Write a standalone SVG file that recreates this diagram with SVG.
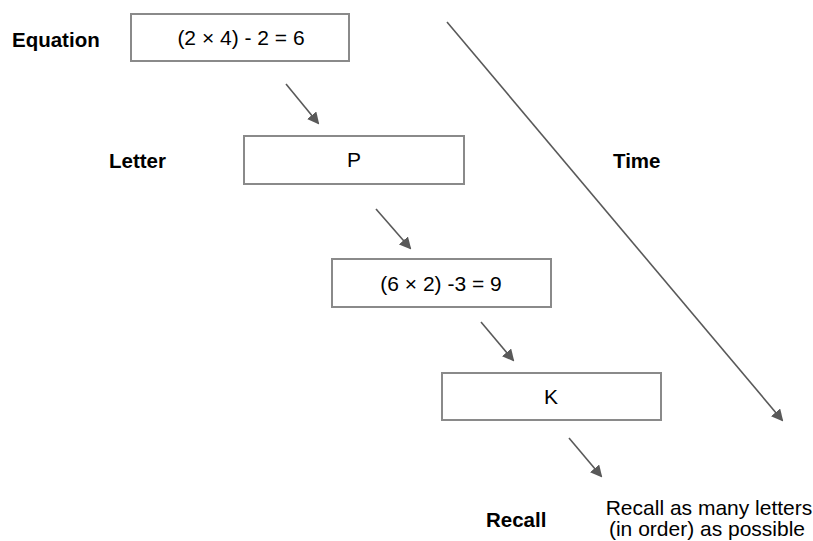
<svg xmlns="http://www.w3.org/2000/svg" width="813" height="541" viewBox="0 0 813 541">
<style>
.box{fill:#fff;stroke:#8a8a8a;stroke-width:2}
.t{font-family:"Liberation Sans",Arial,sans-serif;font-size:21px;fill:#000;text-anchor:middle}
.lbl{font-family:"Liberation Sans",Arial,sans-serif;font-size:20.5px;font-weight:bold;fill:#000}
.arr{stroke:#595959;stroke-width:1.6;fill:none;marker-end:url(#ah)}
</style>
<defs>
<marker id="ah" markerWidth="12" markerHeight="12" refX="10" refY="6" orient="auto" markerUnits="userSpaceOnUse">
<path d="M0,0 L12,6 L0,12 Z" fill="#595959"/>
</marker>
</defs>
<rect width="813" height="541" fill="#fff"/>
<g id="labels">
<text class="lbl" x="12" y="47">Equation</text>
<text class="lbl" x="109" y="168">Letter</text>
<text class="lbl" x="613" y="168">Time</text>
<text class="lbl" x="486" y="527">Recall</text>
</g>
<g id="node1"><rect class="box" x="131" y="14" width="218" height="47"/><text class="t" x="241" y="45">(2 × 4) - 2 = 6</text></g>
<g id="node2"><rect class="box" x="244" y="136" width="220" height="48"/><text class="t" x="354" y="167">P</text></g>
<g id="node3"><rect class="box" x="332" y="259" width="219" height="48"/><text class="t" x="441" y="291">(6 × 2) -3 = 9</text></g>
<g id="node4"><rect class="box" x="442" y="373" width="219" height="47"/><text class="t" x="551" y="404">K</text></g>
<g id="recall-text">
<text class="t" x="709" y="515">Recall as many letters</text>
<text class="t" x="707" y="536">(in order) as possible</text>
</g>
<g id="connectors">
<line class="arr" x1="286" y1="84" x2="318" y2="123"/>
<line class="arr" x1="376" y1="209" x2="410" y2="248"/>
<line class="arr" x1="481" y1="322" x2="513" y2="360"/>
<line class="arr" x1="569" y1="438" x2="601" y2="476"/>
<line class="arr" x1="447" y1="22" x2="782" y2="420"/>
</g>
</svg>
